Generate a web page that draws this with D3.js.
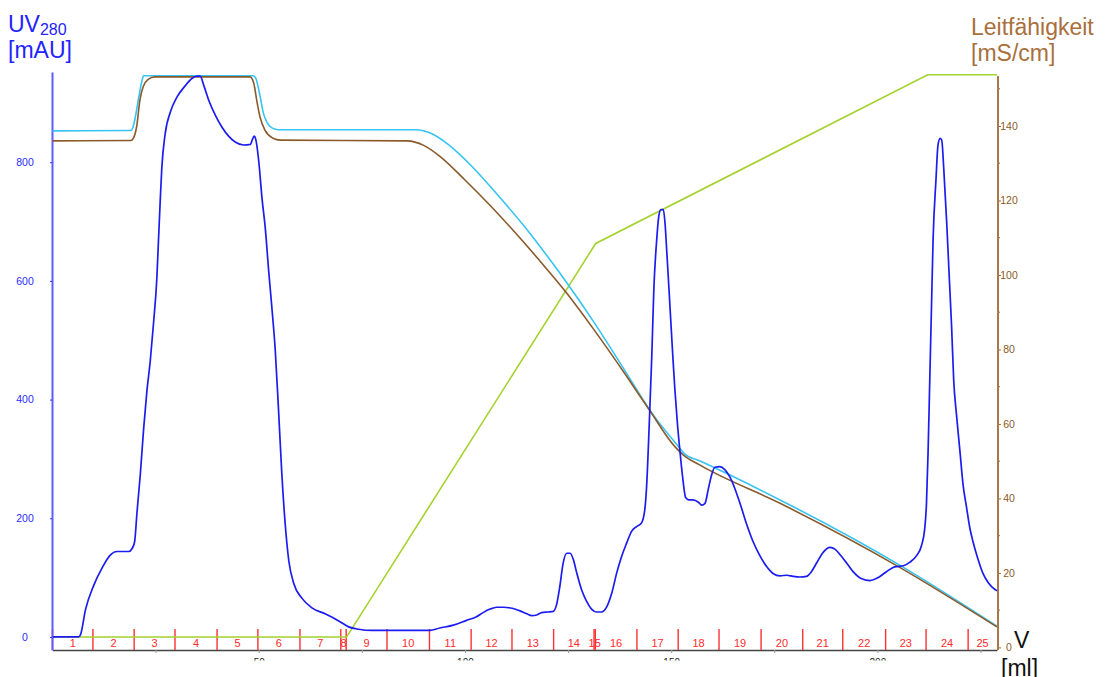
<!DOCTYPE html>
<html>
<head>
<meta charset="utf-8">
<script src="https://cdn.jsdelivr.net/npm/d3@7"></script>
<style>
  body { margin: 0; background: #fff; }
  svg { display: block; font-family: "Liberation Sans", Arial, sans-serif; }
</style>
</head>
<body>
<svg id="chrom" width="1111" height="677"></svg>
<script>
// UV 280 trace (volume in ml, absorbance in mAU)
const uvVolume = [0, 6.3, 6.8, 8.0, 10.0, 12.0, 14.0, 15.6, 18.5, 19.3, 19.9, 20.5, 21.3, 22.1, 22.9, 23.7, 24.5, 25.3, 25.7, 26.1,
  26.5, 27.3, 28.6, 30.2, 32.2, 33.8, 35.0, 35.8, 36.7, 37.9, 39.5, 41.1, 42.7, 44.3, 46.3, 48.0, 48.4, 48.9, 49.3, 50.0,
  50.8, 51.6, 52.4, 53.2, 54.0, 54.8, 55.6, 56.4, 57.3, 58.5, 60.5, 62.9, 66.1, 69.4, 71.8, 74.2, 77.5, 82.6, 91.5, 93.9,
  97.2, 100.4, 102.8, 104.4, 106.1, 107.7, 109.3, 111.7, 113.3, 115.0, 116.2, 117.4, 118.6, 120.2, 121.4, 122.2, 123.0, 123.8, 124.7, 125.5,
  126.3, 127.1, 128.3, 129.5, 130.7, 131.9, 133.1, 134.4, 135.6, 136.8, 138.0, 139.2, 140.4, 141.6, 142.8, 143.6, 144.0, 144.7, 145.3, 145.8,
  146.5, 147.0, 147.5, 148.1, 148.5, 149.0, 149.7, 150.4, 150.9, 151.5, 152.1, 152.8, 153.5, 154.3, 155.3, 156.6, 157.4, 158.2, 159.0, 159.8,
  160.6, 161.8, 163.0, 164.2, 165.5, 166.7, 168.3, 169.9, 171.5, 173.1, 174.7, 176.4, 178.0, 179.6, 181.2, 182.8, 184.0, 185.3, 186.9, 188.5,
  189.7, 190.9, 192.5, 194.1, 196.2, 198.2, 200.2, 202.2, 204.2, 206.3, 207.9, 209.5, 210.7, 211.5, 211.9, 212.3, 212.7, 213.1, 213.5, 214.2,
  214.7, 215.2, 215.6, 216.1, 216.8, 217.4, 218.0, 218.5, 219.2, 220.0, 220.8, 221.6, 222.4, 223.2, 224.4, 225.6, 226.8, 228.5, 229.0];
const uvValue = [0, 0, 4, 46, 87, 116, 138, 144, 144, 149, 160, 211, 275, 351, 415, 465, 529, 605, 669, 732,
  790, 847, 885, 910, 929, 941, 945, 945, 929, 904, 879, 859, 844, 834, 829, 830, 837, 844, 838, 802,
  739, 688, 618, 554, 484, 383, 275, 192, 128, 90, 65, 49, 39, 27, 17, 13, 11, 11, 11, 15,
  20, 28, 34, 41, 47, 50, 50, 48, 44, 39, 36, 37, 41, 42, 43, 54, 85, 124, 141, 141,
  130, 108, 79, 60, 47, 42, 42, 51, 74, 108, 136, 158, 178, 186, 192, 214, 248, 361, 473, 586,
  670, 709, 720, 720, 698, 642, 558, 473, 417, 361, 315, 268, 235, 231, 231, 227, 222, 225, 249, 273,
  286, 287, 282, 270, 249, 225, 190, 160, 137, 119, 107, 103, 104, 102, 101, 102, 110, 125, 143, 151,
  148, 139, 125, 110, 98, 95, 100, 110, 118, 120, 126, 137, 154, 184, 225, 314, 433, 551, 669, 770,
  829, 840, 837, 788, 699, 610, 522, 433, 373, 314, 255, 219, 184, 160, 131, 107, 92, 80, 78];

// second conductivity trace (cyan)
const cyanVolume = [0, 19.0, 19.6, 20.1, 20.9, 21.7, 22.1, 48.6, 49.3, 49.9, 50.4, 51.1, 52.0, 53.2, 54.8, 88.0, 92.0, 96.0,
  102.0, 108.0, 114.0, 120.0, 124.7, 131.1, 137.6, 145.6, 152.1, 153.3, 156.9, 176.4, 205.4, 229];
const cyanValue = [138.7, 138.8, 140, 142.5, 147.6, 152.2, 153.5, 153.5, 152.8, 150.3, 147.6, 143.6, 141, 139.5, 139, 139, 137.9, 135,
  128.8, 121.4, 113.6, 105, 97.9, 87.6, 76.4, 62.5, 53.5, 51.9, 50.1, 39.6, 22.1, 5.7];

// Leitfähigkeit (brown), mS/cm
const condVolume = [0, 19.0, 19.6, 20.4, 21.2, 22.0, 23.2, 24.8, 47.9, 48.8, 49.5, 50.3, 51.5, 53.5, 55.2, 86.0, 90.0, 94.0,
  100.0, 106.0, 112.0, 118.0, 124.7, 131.1, 139.2, 144.8, 150.9, 152.9, 156.9, 176.4, 205.4, 229];
const condValue = [136, 136.1, 136.7, 139.8, 147, 150.6, 152.5, 153.2, 153.2, 151.5, 147, 142.5, 138.9, 136.7, 136.2, 136, 134.8, 131.8,
  125.5, 118.8, 111.6, 104, 95.1, 85.6, 72.8, 63.6, 53.9, 51.7, 49, 38.7, 21.5, 5.5];

// gradient (% B)
const gradVolume = [0, 71.3, 131.7, 212.2, 229];
const gradPercent = [0, 0, 70, 100, 100];

// fractions
const fracStart = [0, 9.8, 19.8, 29.7, 39.9, 49.8, 60.0, 69.9, 71.2, 81.1, 91.4, 101.5, 111.4, 121.5, 131.3, 131.6,
  141.7, 151.7, 161.6, 171.8, 181.9, 191.6, 202.0, 211.8, 222.0];
const fracEnd = 229;
const fracLabels = fracStart.map((d, i) => String(i + 1));

const uvTicks = [0, 200, 400, 600, 800];
const condTicks = [0, 20, 40, 60, 80, 100, 120, 140];
const condMinor = [10, 30, 50, 70, 90, 110, 130, 150];
const volTicks = [25, 50, 75, 100, 125, 150, 175, 200, 225];
const volLabels = [50, 100, 150, 200];

let svg = d3.select("svg#chrom");

let x = d3.scaleLinear().domain([0, 229]).range([52.5, 997]);
let yUV = d3.scaleLinear().domain([-22, 952]).range([650, 72]);
let yCond = d3.scaleLinear().domain([-0.7, 154.5]).range([650, 72]);
let yB = d3.scaleLinear().domain([-2.3, 100.5]).range([650, 72]);

// bottom axis, labels are cut off just below the axis like in the original
let xAxis = svg.append("g")
  .attr("transform", "translate(0,650)")
  .attr("clip-path", "url(#cutBottom)")
  .call(d3.axisBottom(x).tickValues(volTicks).tickSize(3).tickSizeOuter(0)
    .tickFormat(d => volLabels.includes(d) ? d : ""));
xAxis.append("clipPath").attr("id", "cutBottom")
  .append("rect").attr("x", 0).attr("y", -10).attr("width", 1111).attr("height", 20.5);
xAxis.select(".domain").attr("stroke", "#444").attr("stroke-width", 1.5);
xAxis.selectAll(".tick line").attr("stroke", "#999");
xAxis.selectAll(".tick text").attr("fill", "#222").attr("font-size", 10).attr("dy", "0.95em");

// fraction marks
let frac = svg.append("g");
frac.selectAll("line")
  .data(fracStart)
  .join("line")
  .attr("x1", d => x(d)).attr("x2", d => x(d))
  .attr("y1", 629).attr("y2", 650)
  .attr("stroke", "#ff3030").attr("stroke-width", 1.4);
frac.selectAll("text")
  .data(fracStart)
  .join("text")
  .attr("x", (d, i) => x((d + (i < fracStart.length - 1 ? fracStart[i + 1] : fracEnd)) / 2))
  .attr("y", 647)
  .attr("text-anchor", "middle")
  .attr("font-size", 11)
  .attr("fill", "#ff2a2a")
  .text((d, i) => fracLabels[i]);

// left axis (UV)
let leftAxis = svg.append("g")
  .attr("transform", "translate(52,0)")
  .call(d3.axisLeft(yUV).tickValues(uvTicks).tickSize(2).tickSizeOuter(0));
leftAxis.select(".domain").attr("stroke", "#5c5cff").attr("stroke-width", 2);
leftAxis.selectAll(".tick line").attr("stroke", "#3030ff");
leftAxis.selectAll(".tick text").attr("x", -27).attr("text-anchor", "middle")
  .attr("fill", "#2a2aff").attr("font-size", 10.5);

// right axis (conductivity)
let rightAxis = svg.append("g")
  .attr("transform", "translate(998,0)")
  .call(d3.axisRight(yCond).tickValues(condTicks).tickSize(3).tickSizeOuter(0));
rightAxis.select(".domain").remove();
rightAxis.selectAll(".tick line").attr("stroke", "#9a6a38");
rightAxis.selectAll(".tick text").attr("x", 11).attr("text-anchor", "middle")
  .attr("fill", "#8a5a28").attr("font-size", 10.5);
rightAxis.selectAll(".minor")
  .data(condMinor)
  .join("line")
  .attr("class", "minor")
  .attr("x1", 0).attr("x2", 2)
  .attr("y1", d => yCond(d)).attr("y2", d => yCond(d))
  .attr("stroke", "#9a6a38");
rightAxis.append("line")
  .attr("x1", 0).attr("x2", 0).attr("y1", 76).attr("y2", 650)
  .attr("stroke", "#a8784a").attr("stroke-width", 2);

// traces
const line = (xs, ys, yScale, curve) => d3.line()
  .x((d, i) => x(xs[i]))
  .y((d, i) => yScale(ys[i]))
  .curve(curve)(xs);

svg.append("path")
  .attr("d", line(gradVolume, gradPercent, yB, d3.curveLinear))
  .attr("fill", "none").attr("stroke", "#a4d22e").attr("stroke-width", 1.6);

svg.append("path")
  .attr("d", line(cyanVolume, cyanValue, yCond, d3.curveMonotoneX))
  .attr("fill", "none").attr("stroke", "#35c4f3").attr("stroke-width", 1.6);

svg.append("path")
  .attr("d", line(condVolume, condValue, yCond, d3.curveMonotoneX))
  .attr("fill", "none").attr("stroke", "#8b5a2b").attr("stroke-width", 1.6);

svg.append("path")
  .attr("d", line(uvVolume, uvValue, yUV, d3.curveMonotoneX))
  .attr("fill", "none").attr("stroke", "#1c1cf0").attr("stroke-width", 1.7);

// titles
let uvTitle = svg.append("text").attr("x", 8).attr("y", 32).attr("fill", "#2323ff").attr("font-size", 23);
uvTitle.append("tspan").text("UV");
uvTitle.append("tspan").attr("font-size", 16).attr("dy", 3).text("280");
svg.append("text").attr("x", 8).attr("y", 58).attr("fill", "#2323ff").attr("font-size", 23).text("[mAU]");

svg.append("text").attr("x", 971).attr("y", 35).attr("fill", "#a8703c").attr("font-size", 23).text("Leitfähigkeit");
svg.append("text").attr("x", 971).attr("y", 61).attr("fill", "#a8703c").attr("font-size", 23).text("[mS/cm]");

svg.append("text").attr("x", 1014).attr("y", 648).attr("fill", "#111").attr("font-size", 23).text("V");
svg.append("text").attr("x", 1001).attr("y", 676).attr("fill", "#111").attr("font-size", 23).text("[ml]");
</script>
</body>
</html>
